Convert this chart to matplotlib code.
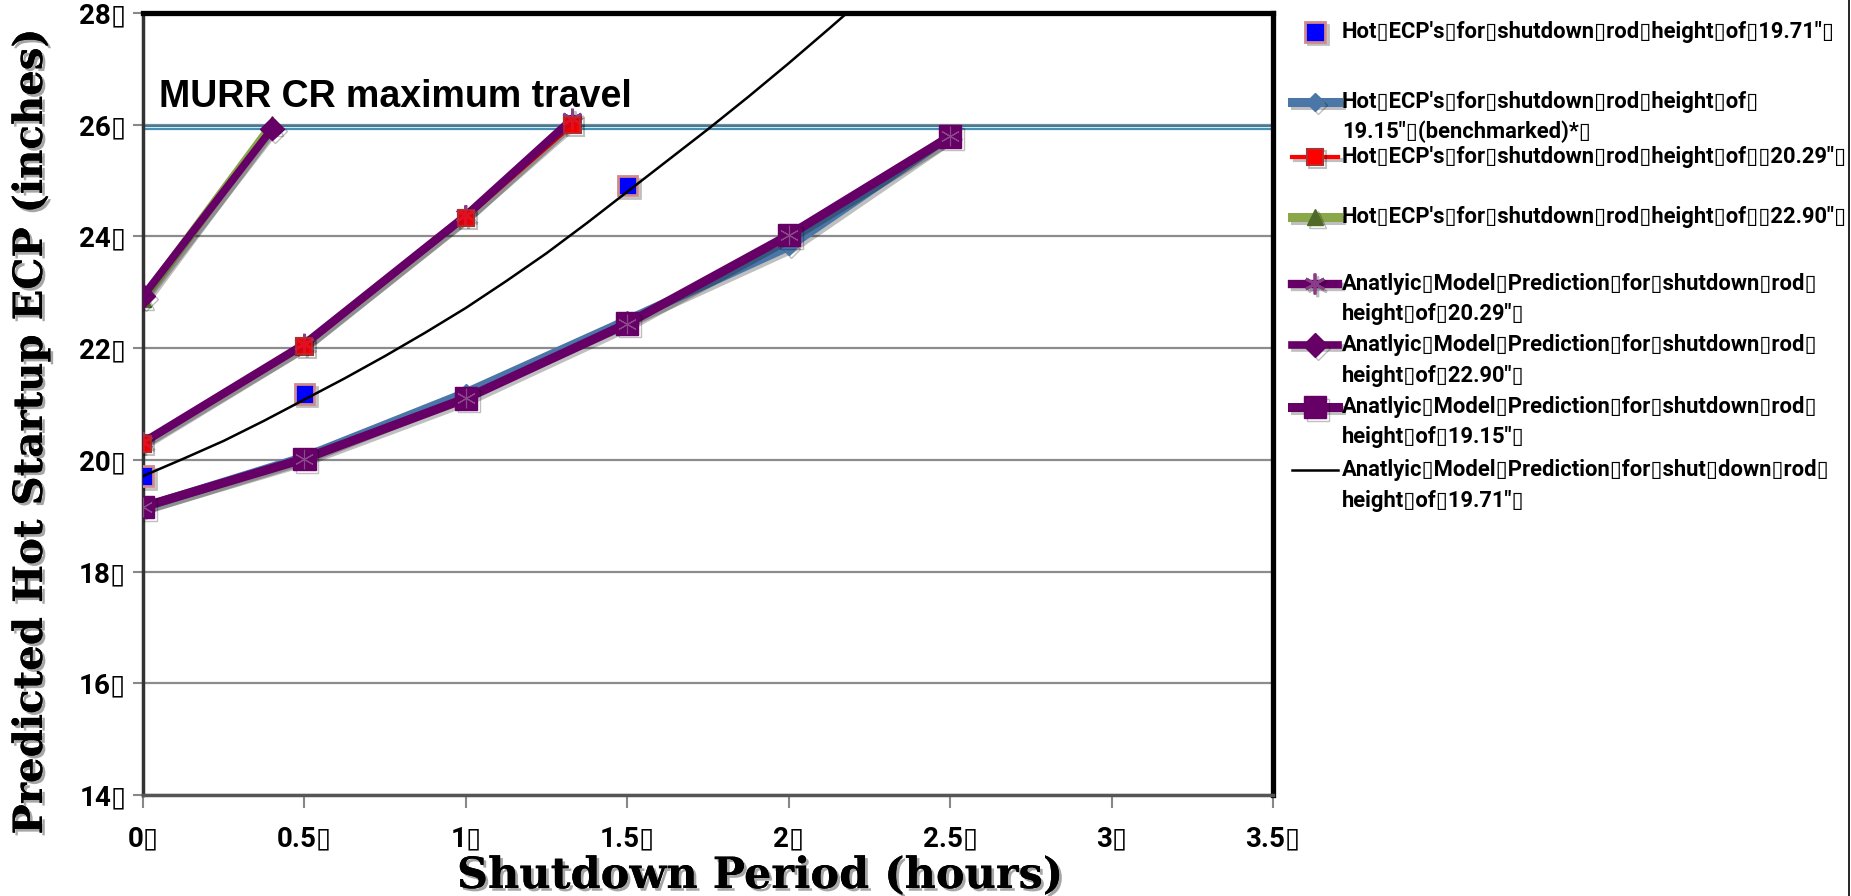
import numpy as np
import matplotlib
matplotlib.use("Agg")
import matplotlib.pyplot as plt
import matplotlib.patheffects as pe
from matplotlib.lines import Line2D

BOX = "\u25af"

# hot ECP measurements
x_1971 = [0, 0.5, 1.5]
y_1971 = [19.71, 21.18, 24.91]

x_1915 = [0, 0.5, 1, 1.5, 2, 2.5]
y_1915 = [19.15, 20.05, 21.2, 22.5, 23.82, 25.8]

x_2029 = [0, 0.5, 1, 1.33]
y_2029 = [20.29, 22.03, 24.33, 26.0]

x_2290 = [0, 0.4]
y_2290 = [22.88, 26.0]

# analytic model predictions
xm_2029 = [0, 0.5, 1, 1.33]
ym_2029 = [20.31, 22.07, 24.37, 26.1]

xm_2290 = [0, 0.4]
ym_2290 = [22.93, 25.93]

xm_1915 = [0, 0.5, 1, 1.5, 2, 2.5]
ym_1915 = [19.16, 20.02, 21.1, 22.44, 24.02, 25.79]

xm_1971 = [0, 0.125, 0.25, 0.375, 0.5, 0.625, 0.75, 0.875, 1, 1.125, 1.25,
           1.375, 1.5, 1.625, 1.75, 1.875, 2, 2.125, 2.25]
ym_1971 = [19.71, 20.02, 20.34, 20.7, 21.08, 21.46, 21.86, 22.28, 22.72, 23.2, 23.7,
           24.24, 24.8, 25.36, 25.92, 26.5, 27.1, 27.72, 28.35]

murr_max = [25.98, 25.92]

xticks = [0, 0.5, 1, 1.5, 2, 2.5, 3, 3.5]
xlabels = ["0", "0.5", "1", "1.5", "2", "2.5", "3", "3.5"]
yticks = [14, 16, 18, 20, 22, 24, 26, 28]
ylabels = ["14", "16", "18", "20", "22", "24", "26", "28"]

labels = [
    ["Hot ECP's for shutdown rod height of 19.71\" "],
    ["Hot ECP's for shutdown rod height of ", "19.15\" (benchmarked)* "],
    ["Hot ECP's for shutdown rod height of  20.29\" "],
    ["Hot ECP's for shutdown rod height of  22.90\" "],
    ["Anatlyic Model Prediction for shutdown rod ", "height of 20.29\" "],
    ["Anatlyic Model Prediction for shutdown rod ", "height of 22.90\" "],
    ["Anatlyic Model Prediction for shutdown rod ", "height of 19.15\" "],
    ["Anatlyic Model Prediction for shut down rod ", "height of 19.71\" "],
]

W, H = 1851, 896
fig = plt.figure(figsize=(W / 100, H / 100), dpi=100)
ax = fig.add_axes([143 / W, 1 - 795 / H, 1130 / W, 782 / H])

sans = ["Roboto", "DejaVu Sans"]
shadow = [pe.SimpleLineShadow(offset=(2, -2), alpha=0.25), pe.Normal()]

for yv, c in zip(murr_max, ["#3a7f9f", "#4a90b0"]):
    ax.axhline(yv, color=c, lw=1.6, zorder=2)

h_bench, = ax.plot(x_1915, y_1915, color="#4a76a8", lw=6.5, marker="D", ms=9,
                   mfc="#4a76a8", mec="#4a76a8", path_effects=shadow, zorder=3)
h_m1915, = ax.plot(xm_1915, ym_1915, color="#660066", lw=6.5, marker="s", ms=16,
                   mfc="#660066", mec="#660066", path_effects=shadow, zorder=4)
ax.plot(xm_1915, ym_1915, ls="none", marker=(6, 2, 0), ms=14, mec="#8a4a8a",
        mew=0.8, zorder=4)

h_2029, = ax.plot(x_2029, y_2029, color="#ff0000", lw=3, marker="s", ms=12,
                  mfc="#ff0000", mec="#b03030", mew=1.5, path_effects=shadow, zorder=3)
h_m2029, = ax.plot(xm_2029, ym_2029, color="#660066", lw=6, marker=(6, 2, 0), ms=15,
                   mec="#8a3c8a", mew=2, path_effects=shadow, zorder=4)
ax.plot(x_2029, y_2029, ls="none", marker="s", ms=12, mfc="#ff0000", mec="#b03030",
        mew=1.5, alpha=0.75, zorder=5)

h_2290, = ax.plot(x_2290, y_2290, color="#8aa84a", lw=6.5, marker="^", ms=12,
                  mfc="#4f6a28", mec="#4f6a28", path_effects=shadow, zorder=3)
h_m2290, = ax.plot(xm_2290, ym_2290, color="#660066", lw=5.5, marker="D", ms=12,
                   mfc="#660066", mec="#660066", path_effects=shadow, zorder=4)

h_1971, = ax.plot(x_1971, y_1971, ls="none", marker="s", ms=14, mfc="#0000ff",
                  mec="#d08a8a", mew=2, path_effects=shadow, zorder=5)
h_m1971, = ax.plot(xm_1971, ym_1971, color="black", lw=1.8, zorder=6)

ax.text(0.05, 26.5, "MURR CR maximum travel", fontsize=27, fontweight="bold",
        family="Liberation Sans", va="center", ha="left")

ax.set_xlim(0, 3.5)
ax.set_ylim(14, 28)
ax.set_xticks(xticks)
ax.set_xticklabels([s + BOX for s in xlabels])
ax.set_yticks(yticks)
ax.set_yticklabels([s + BOX for s in ylabels])
ax.yaxis.grid(True, color="#8c8c8c", lw=1.6)
ax.set_axisbelow(True)
ax.tick_params(axis="y", direction="out", length=7, width=1.5, color="#888888",
               pad=5, labelsize=20)
ax.tick_params(axis="x", direction="out", length=9, width=1.5, color="#888888",
               pad=13, labelsize=20)
for t in ax.get_xticklabels() + ax.get_yticklabels():
    t.set_family(sans)
    t.set_fontweight("bold")

ax.spines["left"].set_color("#333333")
ax.spines["left"].set_linewidth(2.5)
ax.spines["bottom"].set_color("#555555")
ax.spines["bottom"].set_linewidth(2.5)
ax.spines["top"].set_color("black")
ax.spines["top"].set_linewidth(3.8)
ax.spines["right"].set_color("black")
ax.spines["right"].set_linewidth(3.8)

title_fx = [pe.withSimplePatchShadow(offset=(2, -2), shadow_rgbFace="black", alpha=0.35),
            pe.Normal()]
fig.text(31 / W, 1 - 432 / H, "Predicted Hot Startup ECP (inches)", rotation=90,
         ha="center", va="center", fontsize=29, fontweight="bold",
         family="DejaVu Serif", path_effects=title_fx)
fig.text(760 / W, 1 - 876 / H, "Shutdown Period (hours)", ha="center", va="center",
         fontsize=31, fontweight="bold", family="DejaVu Serif", path_effects=title_fx)

# legend column on the right
handles = [h_1971, h_bench, h_2029, h_2290, h_m2029, h_m2290, h_m1915, h_m1971]
rows = [[32], [102, 132], [157], [217], [284, 314], [345, 376], [407, 437], [470, 501]]
for h, lab, ys in zip(handles, labels, rows):
    yf = 1 - ys[0] / H
    hl = Line2D([0, 1], [0, 1])
    hl.update_from(h)
    hl.set_data([1292 / W, 1315 / W, 1338 / W], [yf, yf, yf])
    hl.set_markevery([1])
    hl.set_transform(fig.transFigure)
    hl.set_clip_on(False)
    fig.add_artist(hl)
    for line, yy in zip(lab, ys):
        fig.text(1342 / W, 1 - yy / H, line.replace(" ", BOX), ha="left",
                 va="center", fontsize=15.8, fontweight="bold", family=sans)

fig.add_artist(Line2D([1849 / W, 1849 / W], [0.0, 1.0], color="black", lw=1.2,
                      transform=fig.transFigure))

fig.savefig("out.png", dpi=100)
